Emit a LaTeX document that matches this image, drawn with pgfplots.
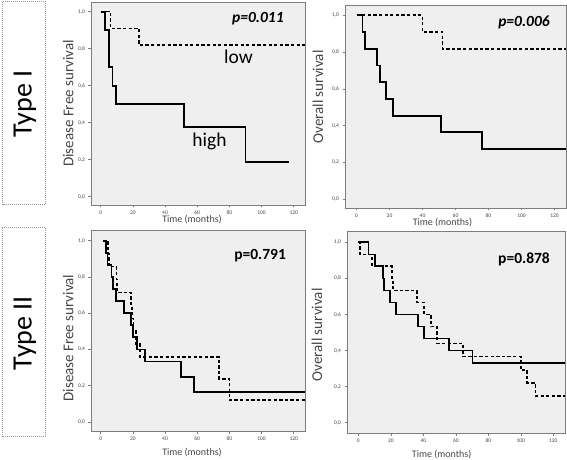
\documentclass[border=0pt]{standalone}
\usepackage{fontspec}
\setmainfont{Carlito}
\usepackage{pgfplots}
\pgfplotsset{compat=1.18}
\definecolor{bgc}{RGB}{239,239,239}
\definecolor{framec}{RGB}{125,125,125}
\definecolor{txt}{RGB}{70,70,70}
\pgfplotsset{km/.style={
  scale only axis, anchor=south west,
  axis background/.style={fill=bgc},
  axis line style={framec, line width=0.9pt},
  xtick={0,20,...,120}, ytick={0,0.2,0.4,0.6,0.8,1.0},
  tick align=outside, major tick length=2.5pt,
  xtick pos=bottom, ytick pos=left,
  tick style={framec, line width=0.5pt},
  ticklabel style={font=\fontsize{5.5}{6}\selectfont, text=txt},
  /pgf/number format/assume math mode=true,
  yticklabel style={/pgf/number format/.cd, fixed, fixed zerofill, precision=1, use comma, /tikz/.cd},
  xticklabel style={yshift=0.5pt},
  xlabel={Time (months)},
  xlabel style={font=\fontsize{10}{12}\selectfont, text=txt, anchor=center},
  ylabel style={font=\fontsize{15}{17}\selectfont, text=txt, anchor=center},
  clip=true,
}}
\tikzset{
  sol/.style={black, line width=1.8pt, const plot, line join=miter},
  das/.style={black, line width=1.7pt, const plot, dash pattern=on 3.3pt off 2.3pt},
}
\begin{document}
\begin{tikzpicture}
\path[use as bounding box] (0pt,0pt) rectangle (567pt,460pt);
% Type boxes
\draw[gray!80, densely dotted, line width=1pt] (2.5pt,255pt) rectangle (45.5pt,458.5pt);
\draw[gray!80, densely dotted, line width=1pt] (2.5pt,23pt) rectangle (45.5pt,232pt);
\node[rotate=90, font=\fontsize{28}{30}\selectfont] at (25pt,356pt) {Type I};
\node[rotate=90, font=\fontsize{28}{30}\selectfont] at (25pt,127pt) {Type II};

% Top-left: DFS Type I
\begin{axis}[km, at={(91pt,255pt)}, width=214pt, height=203pt,
  xmin=-6, xmax=127, ymin=-0.045, ymax=1.052,
  ylabel={Disease Free survival},
  ylabel style={at={(axis description cs:-0.107,0.5)}},
  xlabel style={at={(axis description cs:0.472,-0.074)}}]
\addplot[sol] coordinates {(0,1) (2.5,0.9) (5.2,0.7) (7.4,0.6) (9.3,0.5) (52,0.375) (90,0.1875) (117,0.1875)};
\addplot[das] coordinates {(0,1) (6.2,0.909) (24,0.818) (127,0.818)};
\node[anchor=base, font=\fontsize{15.5}{17}\selectfont\bfseries\itshape] at (rel axis cs:0.78,0.898) {p=0.011};
\node[anchor=base, font=\fontsize{19.5}{21}\selectfont] at (rel axis cs:0.689,0.698) {low};
\node[anchor=base, font=\fontsize{19.5}{21}\selectfont] at (rel axis cs:0.554,0.286) {high};
\end{axis}

% Top-right: OS Type I
\begin{axis}[km, at={(345pt,252pt)}, width=221pt, height=203pt,
  xmin=-7, xmax=127, ymin=-0.047, ymax=1.056,
  ylabel={Overall survival},
  ylabel style={at={(axis description cs:-0.122,0.547)}},
  xlabel style={at={(axis description cs:0.441,-0.07)}}]
\addplot[sol] coordinates {(0,1) (3.6,0.909) (5.1,0.818) (12.3,0.727) (14.2,0.636) (18,0.545) (22.3,0.455) (51.4,0.364) (76.3,0.273) (127,0.273)};
\addplot[das] coordinates {(0,1) (40,0.909) (52.2,0.818) (127,0.818)};
\node[anchor=base, font=\fontsize{15.5}{17}\selectfont\bfseries\itshape] at (rel axis cs:0.81,0.893) {p=0.006};
\end{axis}

% Bottom-left: DFS Type II
\begin{axis}[km, at={(91pt,28.3pt)}, width=214pt, height=201pt,
  xmin=-6, xmax=127, ymin=-0.054, ymax=1.055,
  ylabel={Disease Free survival},
  ylabel style={at={(axis description cs:-0.107,0.466)}},
  xlabel style={at={(axis description cs:0.472,-0.106)}}]
\addplot[sol] coordinates {(1.4,1) (3.5,0.933) (4.2,0.867) (6.8,0.8) (7.8,0.733) (9.7,0.667) (14.6,0.6) (18.8,0.533) (20,0.467) (22.5,0.4) (27.6,0.333) (50,0.25) (58,0.167) (127,0.167)};
\addplot[das] coordinates {(1.4,1) (4.5,0.929) (5,0.857) (9.8,0.786) (10.2,0.714) (19,0.643) (19.6,0.571) (20.5,0.5) (22,0.429) (24.5,0.357) (73.6,0.238) (80,0.119) (127,0.119)};
\node[anchor=base, font=\fontsize{15.5}{17}\selectfont\bfseries] at (rel axis cs:0.79,0.858) {p=0.791};
\end{axis}

% Bottom-right: OS Type II
\begin{axis}[km, at={(347pt,27pt)}, width=218pt, height=202pt,
  xmin=-7, xmax=127.2, ymin=-0.057, ymax=1.063,
  ylabel={Overall survival},
  ylabel style={at={(axis description cs:-0.138,0.485)}},
  xlabel style={at={(axis description cs:0.434,-0.109)}}]
\addplot[sol] coordinates {(0,1) (6.2,0.933) (10.3,0.867) (15.4,0.8) (16,0.733) (19.5,0.667) (23,0.6) (36.9,0.533) (40.4,0.467) (56,0.4) (70.2,0.333) (127.2,0.333)};
\addplot[das] coordinates {(0,1) (1,0.933) (8.2,0.867) (20.9,0.8) (21.3,0.733) (36,0.667) (40.4,0.6) (44.7,0.533) (48.6,0.44) (64.5,0.367) (100,0.293) (104,0.22) (109,0.147) (127.2,0.147)};
\node[anchor=base, font=\fontsize{15.5}{17}\selectfont\bfseries] at (rel axis cs:0.812,0.84) {p=0.878};
\end{axis}
\end{tikzpicture}
\end{document}
